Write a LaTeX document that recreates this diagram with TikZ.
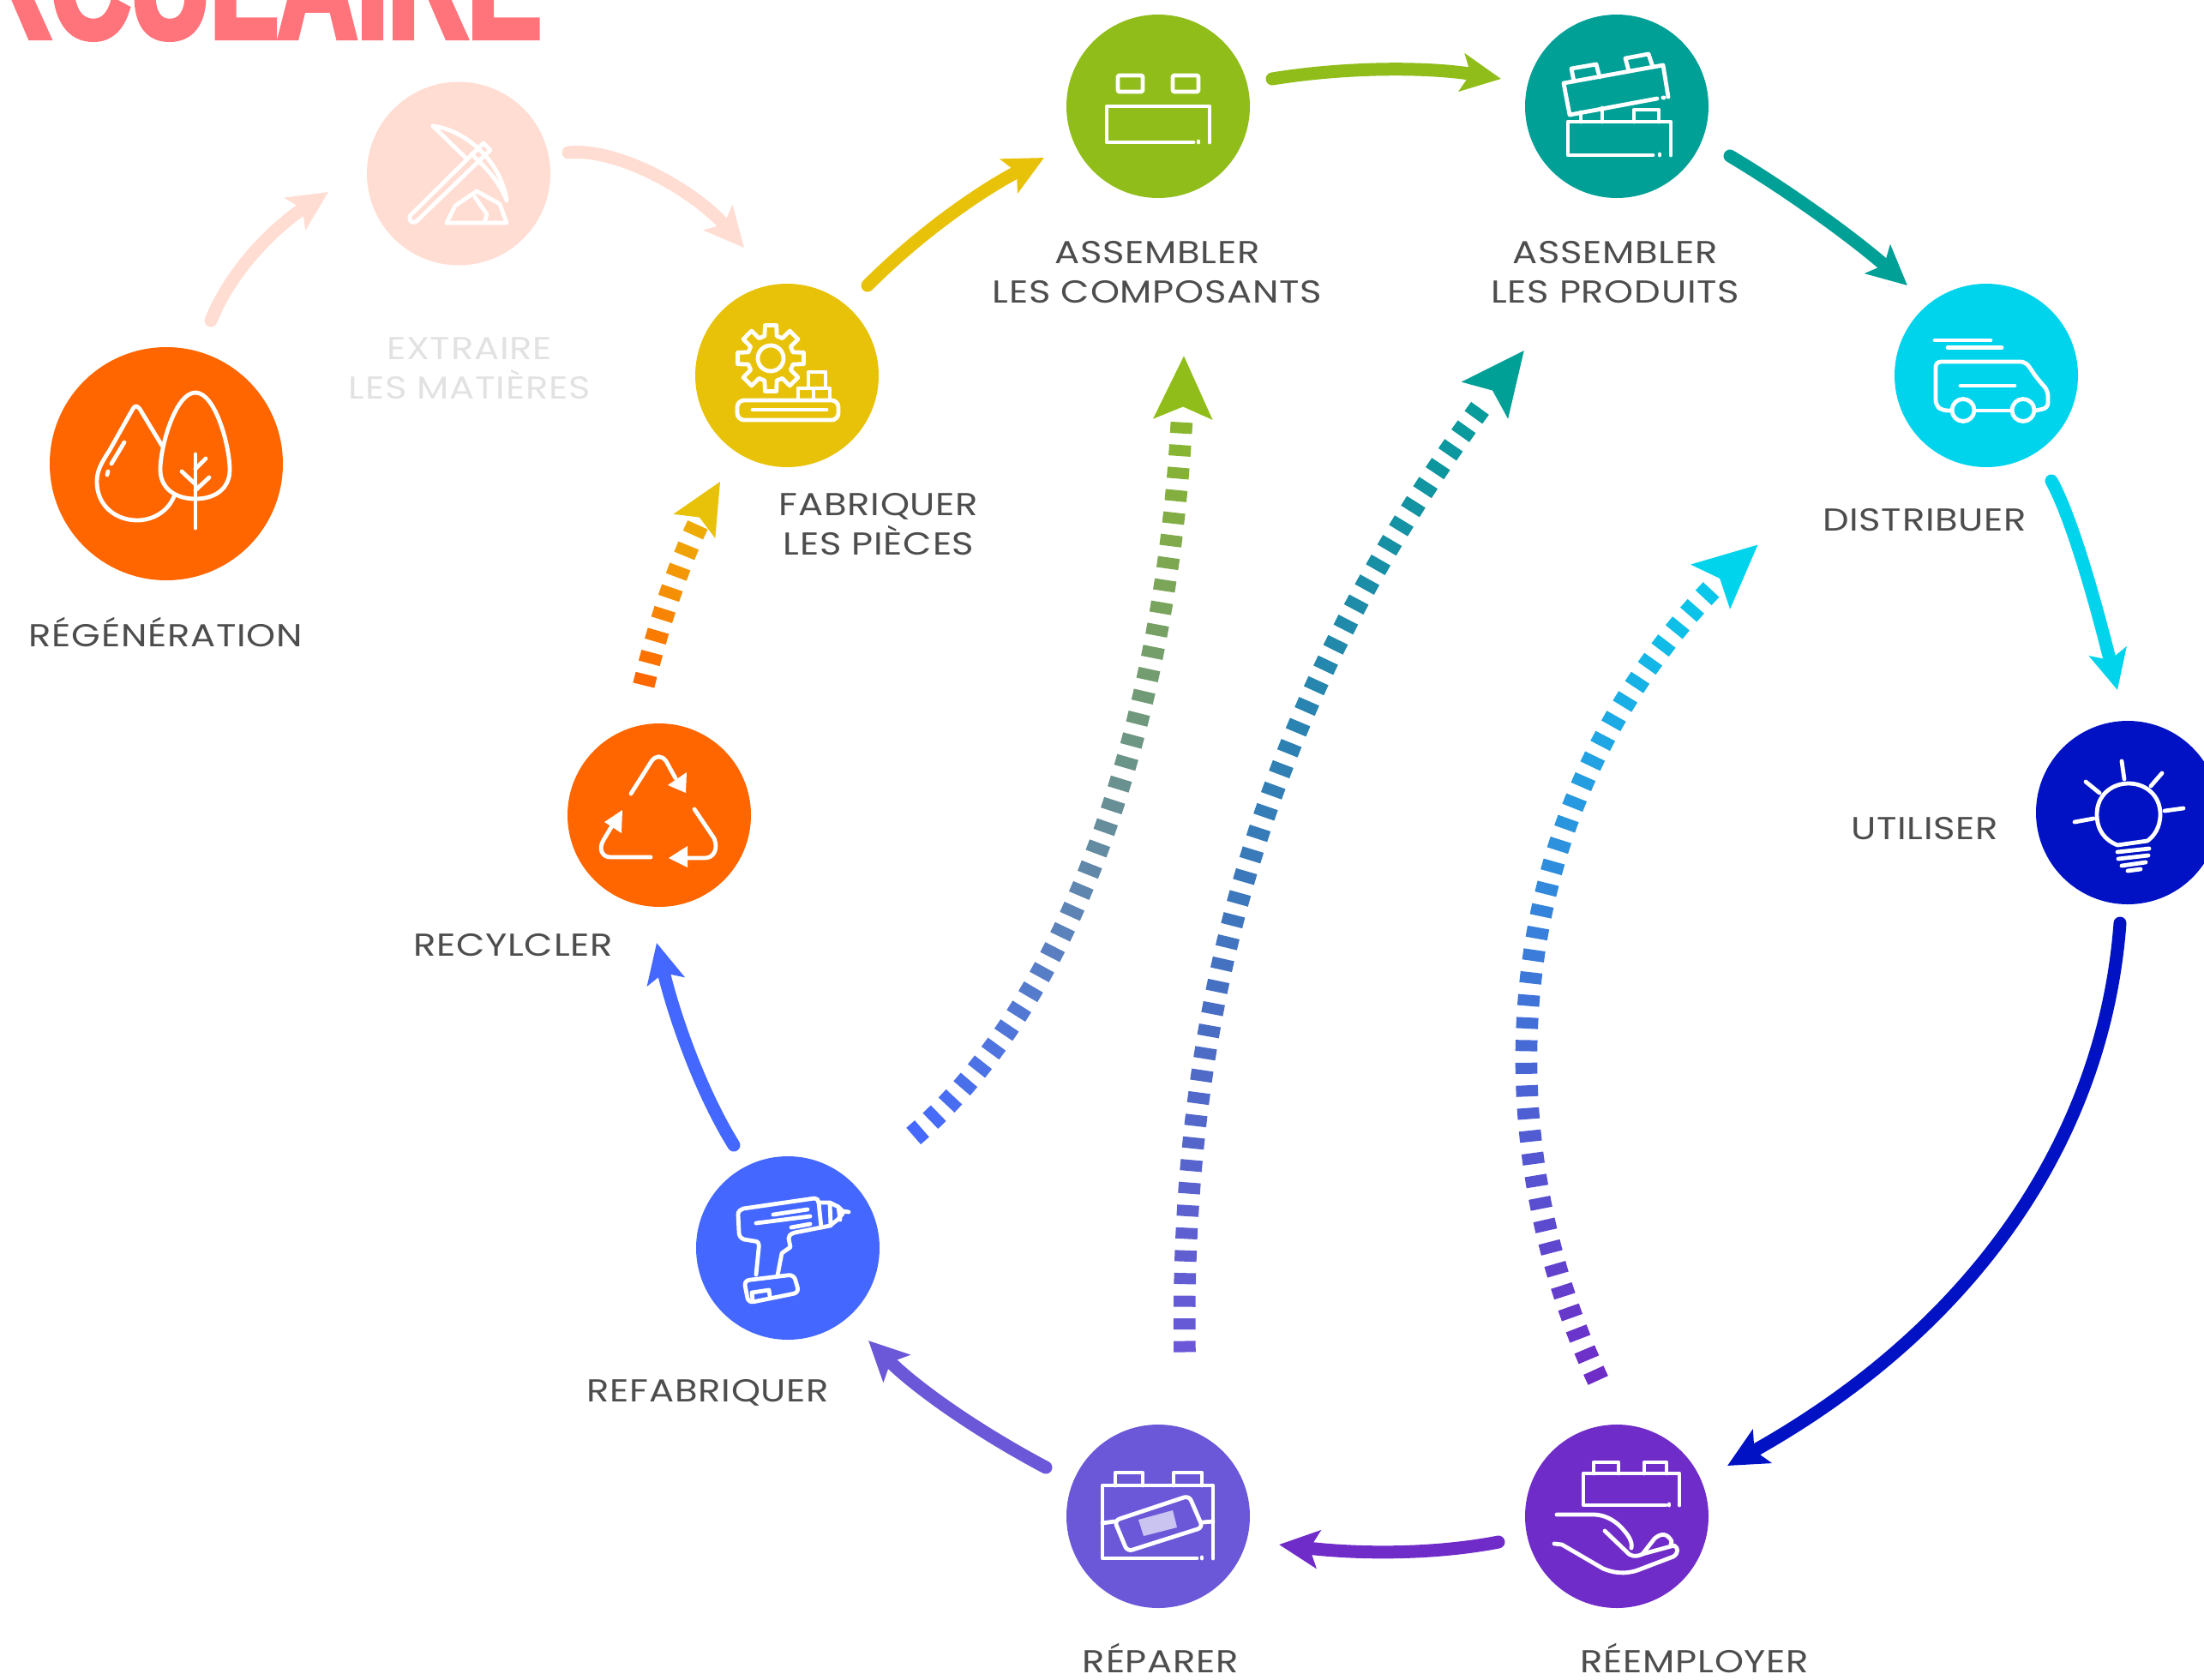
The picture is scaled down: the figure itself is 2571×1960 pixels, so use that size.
\documentclass[tikz,border=0pt]{standalone}
\usepackage{fontspec}
\usetikzlibrary{arrows.meta,decorations.markings,calc}
\setmainfont{Poppins}[FakeStretch=1.17,LetterSpace=2]
\newfontfamily\titlefont[FakeStretch=0.70,FakeBold=3.5]{Liberation Sans}
\definecolor{cRegen}{HTML}{FF6600}
\definecolor{cExtr}{HTML}{FFDDD3}
\definecolor{cFab}{HTML}{E8C208}
\definecolor{cComp}{HTML}{90BD19}
\definecolor{cProd}{HTML}{00A096}
\definecolor{cDist}{HTML}{00D4ED}
\definecolor{cUtil}{HTML}{0012C4}
\definecolor{cReem}{HTML}{702CC8}
\definecolor{cRepa}{HTML}{6A58D8}
\definecolor{cRefa}{HTML}{4468FF}
\definecolor{cTitle}{HTML}{FF747B}
\definecolor{cText}{HTML}{4D4D4D}
\definecolor{cFaint}{HTML}{E2E2E2}
\tikzset{
  disc/.style={circle,minimum size=107pt,inner sep=0pt,outer sep=0pt,draw=none},
  bigdisc/.style={circle,minimum size=136pt,inner sep=0pt,outer sep=0pt,draw=none},
  lab/.style={align=center,text=cText,inner sep=0pt,font=\fontsize{18.5}{23}\selectfont},
  ico/.style={draw=white,line width=2.4pt,line join=round,line cap=round,fill=none},
  flow/.style={line width=7.5pt,line cap=round,-{Stealth[length=23pt,width=22pt,inset=5pt]}},
}
\newcommand{\dashflow}[5]{%
  \path[postaction={decorate},decoration={markings,
    mark=between positions 3pt and -#5 step 13.2pt with {%
      \pgfmathsetmacro\mixp{min(100,100*(\pgfkeysvalueof{/pgf/decoration/mark info/distance from start}/\pgfdecoratedpathlength))}%
      \fill[#2!\mixp!#1] (-3.25pt,-6.4pt) rectangle (3.25pt,6.4pt);},
    mark=at position -1.5pt with {%
      \fill[#2] (1.5pt,0pt) -- (1.5pt-#4,0.47*#4) -- (1.5pt-0.8*#4,0pt) -- (1.5pt-#4,-0.47*#4) -- cycle;}}] #3;}
\begin{document}
\begin{tikzpicture}[x=0.5pt,y=-0.5pt]
\useasboundingbox (0,0) rectangle (2571,1960);
\clip (0,0) rectangle (2571,1960);
% title
\node[anchor=base east,inner sep=0pt,text=cTitle] (title) at (632,44)
  {\titlefont\bfseries\fontsize{92}{92}\selectfont CIRCULAIRE};
% discs
\node[bigdisc,fill=cRegen] (regen) at (194,541) {};
\node[disc,fill=cExtr] (extr) at (535,202.5) {};
\node[disc,fill=cFab] (fab) at (918,438) {};
\node[disc,fill=cComp] (comp) at (1351,124) {};
\node[disc,fill=cProd] (prod) at (1886,124) {};
\node[disc,fill=cDist] (dist) at (2317,438) {};
\node[disc,fill=cUtil] (util) at (2482,948) {};
\node[disc,fill=cReem] (reem) at (1886,1769) {};
\node[disc,fill=cRepa] (repa) at (1351,1769) {};
\node[disc,fill=cRefa] (refa) at (919,1456) {};
\node[disc,fill=cRegen] (recy) at (769,951) {};
% labels
\node[lab] (lregen) at (193.5,737) {RÉGÉNÉRATION};
\node[lab,text=cFaint] (lextr) at (547.6,430) {EXTRAIRE\\LES MATIÈRES};
\node[lab] (lfab) at (1025,612) {FABRIQUER\\LES PIÈCES};
\node[lab] (lcomp) at (1350,318) {ASSEMBLER\\LES COMPOSANTS};
\node[lab] (lprod) at (1884,318) {ASSEMBLER\\LES PRODUITS};
\node[lab] (ldist) at (2245,607) {DISTRIBUER};
\node[lab] (lutil) at (2245,967) {UTILISER};
\node[lab] (lrecy) at (598.5,1103) {RECYLCLER};
\node[lab] (lrefa) at (826,1625) {REFABRIQUER};
\node[lab] (lrepa) at (1354,1934) {RÉPARER};
\node[lab] (lreem) at (1977,1934) {RÉEMPLOYER};
% solid connector ends
\coordinate (s1) at ($(regen)+(52,-167)$);   \coordinate (e1) at ($(extr)+(-152,21.5)$);
\coordinate (s2) at ($(extr)+(128,-24.5)$);  \coordinate (e2) at ($(fab)+(-50,-149)$);
\coordinate (s3) at ($(fab)+(94,-105)$);     \coordinate (e3) at ($(comp)+(-133,60)$);
\coordinate (s4) at ($(comp)+(133,-32)$);    \coordinate (e4) at ($(prod)+(-135,-32)$);
\coordinate (s5) at ($(prod)+(132,58)$);     \coordinate (e5) at ($(dist)+(-92,-105)$);
\coordinate (s6) at ($(dist)+(76,123)$);     \coordinate (e6) at ($(util)+(-12,-143)$);
\coordinate (s7) at ($(util)+(-9,129)$);     \coordinate (e7) at ($(reem)+(129,-59)$);
\coordinate (s8) at ($(reem)+(-138,30)$);    \coordinate (e8) at ($(repa)+(141,33)$);
\coordinate (s9) at ($(repa)+(-131,-57)$);   \coordinate (e9) at ($(refa)+(94,108)$);
\coordinate (s10) at ($(refa)+(-63,-120)$);  \coordinate (e10) at ($(recy)+(-3,149)$);
\draw[flow,cExtr] (s1) .. controls (272,310) and (325,262) .. (e1);
\draw[flow,cExtr] (s2) .. controls (720,172) and (810,222) .. (e2);
\draw[flow,cFab] (s3) .. controls (1075,270) and (1145,222) .. (e3);
\draw[flow,cComp] (s4) .. controls (1570,78) and (1665,78) .. (e4);
\draw[flow,cProd] (s5) .. controls (2090,225) and (2165,280) .. (e5);
\draw[flow,cDist] (s6) .. controls (2420,610) and (2450,725) .. (e6);
\draw[flow,cUtil] (s7) .. controls (2455,1320) and (2310,1545) .. (e7);
\draw[flow,cReem] (s8) .. controls (1665,1815) and (1575,1812) .. (e8);
\draw[flow,cRepa] (s9) .. controls (1150,1675) and (1075,1625) .. (e9);
\draw[flow,cRefa] (s10) .. controls (815,1270) and (785,1180) .. (e10);
% dashed connectors
\coordinate (s11) at ($(recy)+(-18,-152)$);  \coordinate (e11) at ($(fab)+(-78,124)$);
\coordinate (s12) at ($(refa)+(147,-131)$);  \coordinate (e12) at ($(comp)+(30,292)$);
\coordinate (s13) at ($(repa)+(31,-192)$);   \coordinate (e13) at ($(prod)+(-109,286)$);
\coordinate (s14) at ($(reem)+(-22,-159)$);  \coordinate (e14) at ($(dist)+(-267,198)$);
\dashflow{cRegen}{cFab}{(s11) .. controls (770,720) and (800,630) .. (e11)}{30pt}{30pt}
\dashflow{cRefa}{cComp}{(s12) .. controls (1260,1160) and (1375,800) .. (e12)}{37pt}{36pt}
\dashflow{cRepa}{cProd}{(s13) .. controls (1375,1130) and (1500,760) .. (e13)}{37pt}{36pt}
\dashflow{cReem}{cDist}{(s14) .. controls (1720,1300) and (1750,900) .. (e14)}{37pt}{36pt}
% regeneration icon
\draw[ico] (189,520) -- (163,477) .. controls (160,473) and (157,473) .. (155,477) -- (128,525) .. controls (117,542) and (113,550) .. (113,562) .. controls (113,590) and (135,607) .. (160,607) .. controls (180,607) and (197,595) .. (203,579);
\draw[ico] (228,458) .. controls (205,458) and (187,520) .. (187,548) .. controls (187,570) and (205,582) .. (228,582) .. controls (251,582) and (268,570) .. (268,548) .. controls (268,520) and (251,458) .. (228,458);
\draw[ico] (228,530) -- (228,616);
\draw[ico] (212,550) -- (228,565) (240,535) -- (228,547) (244,557) -- (228,572);
\draw[ico] (145,516) -- (130,541) (126,550) -- (125,554);
% extraction icon
\draw[ico] (505,147) .. controls (545,152) and (585,190) .. (591,234) .. controls (580,205) and (555,185) .. (550,180) (505,147) -- (543,184);
\draw[ico] (564,167) -- (478,252) .. controls (476,258) and (482,262) .. (486,258) -- (572,175) -- cycle;
\draw[ico] (521,260) -- (591,260) -- (583,238) -- (556,223) -- (531,240) -- cycle;
\draw[ico] (554,230) -- (568,250) -- (565,260);
% fabrication icon
\draw[ico,shift={(899,418)}] (-15:27) \foreach \a in {0,45,...,315} { -- ({\a-15}:27) -- ({\a-10}:39) -- ({\a+10}:39) -- ({\a+15}:27)} -- cycle;
\draw[ico] (899,418) circle (15);
\draw[ico,rounded corners=4pt] (860,467) rectangle (978,490);
\draw[ico] (878,478) -- (964,478);
\draw[ico] (931,453) rectangle (949,467) (949,453) rectangle (968,467) (943,434) rectangle (963,453);
% component icon
\draw[ico,rounded corners=1pt] (1304,88) rectangle (1333,107) (1368,88) rectangle (1398,107);
\draw[ico] (1392,166) -- (1291,166) -- (1291,124) -- (1411,124) -- (1411,166) (1398,166) -- (1398,165);
% product icon
\draw[ico] (1928,181) -- (1829,181) -- (1829,142) -- (1949,142) -- (1949,181) (1936,181) -- (1936,180);
\draw[ico] (1906,142) -- (1906,128) -- (1935,128) -- (1935,142) (1844,131) -- (1844,142) (1869,126) -- (1869,142);
\draw[ico] (1933,115) -- (1831,134) -- (1824,97) -- (1940,76) -- (1946,113) (1941,114) -- (1940,114);
\draw[ico] (1836,95) -- (1833,80) -- (1862,75) -- (1866,90) (1900,83) -- (1896,68) -- (1923,63) -- (1928,78);
% distribution icon
\draw[ico] (2257,397) -- (2322,397) (2272,405.5) -- (2335,405.5) (2287,450) -- (2350,450);
\draw[ico,rounded corners=3pt] (2276,479) -- (2266,479) -- (2258,473) -- (2258,422) -- (2363,422) -- (2376,441) -- (2389,456) -- (2389,476) -- (2374,479);
\draw[ico] (2304,479) -- (2346,479);
\draw[ico] (2290,478.5) circle (13) (2360,478.5) circle (13);
% use icon
\draw[ico] (2470,986) .. controls (2455,980) and (2446,968) .. (2446,950) .. controls (2446,928) and (2463,914) .. (2483,914) .. controls (2503,914) and (2520,928) .. (2520,950) .. controls (2520,966) and (2512,976) .. (2505,981) -- (2470,986);
\draw[ico] (2475,888) -- (2478,909) (2522,902) -- (2509,917) (2433,912) -- (2449,925) (2420,959) -- (2442,955) (2525,946) -- (2547,943);
\draw[ico] (2470,994) -- (2507,990) (2471,1002) -- (2506,998) (2475,1010) -- (2503,1006) (2482,1016) -- (2497,1014);
% reuse icon
\draw[ico] (1943,1756) -- (1847,1756) -- (1847,1719) -- (1959,1719) -- (1959,1756) (1947,1756) -- (1947,1755);
\draw[ico] (1859,1719) -- (1859,1706) -- (1888,1706) -- (1888,1719) (1918,1719) -- (1918,1706) -- (1944,1706) -- (1944,1719);
\draw[ico] (1816,1767) -- (1860,1767) .. controls (1880,1768) and (1892,1782) .. (1898,1790) .. controls (1903,1797) and (1904,1802) .. (1903,1806);
\draw[ico] (1872,1786) -- (1897,1810) .. controls (1902,1816) and (1908,1817) .. (1916,1813) -- (1953,1803) .. controls (1958,1806) and (1958,1812) .. (1952,1816) -- (1910,1832) .. controls (1895,1837) and (1882,1835) .. (1870,1830) -- (1822,1802) -- (1813,1801);
\draw[ico] (1916,1813) -- (1930,1795) .. controls (1938,1788) and (1945,1789) .. (1950,1798) -- (1949,1802);
% repair icon
\draw[ico] (1396,1818) -- (1286,1818) -- (1286,1733) -- (1415,1733) -- (1415,1818) (1402,1818) -- (1402,1817);
\draw[ico] (1301,1733) -- (1301,1718) -- (1333,1718) -- (1333,1733) (1369,1733) -- (1369,1718) -- (1402,1718) -- (1402,1733);
\draw[ico] (1286,1777) -- (1300,1775) (1403,1776) -- (1415,1775);
\draw[ico,rounded corners=3pt] (1300,1774) -- (1387,1745) -- (1403,1782) -- (1315,1810) -- cycle;
\fill[white,opacity=0.65] (1328,1773) -- (1368,1762) -- (1373,1782) -- (1334,1792) -- cycle;
% remanufacture icon
\draw[ico] (882,1487) -- (885,1457) .. controls (886,1450) and (884,1448) .. (880,1448) -- (868,1446) .. controls (863,1444) and (862,1441) .. (862,1437) -- (861,1417) .. controls (861,1413) and (864,1411) .. (867,1410) -- (950,1398) .. controls (953,1398) and (955,1400) .. (955,1403) -- (958,1432) -- (927,1438) .. controls (921,1440) and (920,1442) .. (920,1445) -- (922,1455) -- (912,1462) -- (907,1488);
\draw[ico] (955,1403) -- (968,1403) -- (978,1408) -- (983,1413) -- (990,1414) (983,1416) -- (977,1423) -- (968,1430) -- (958,1432) (968,1403) -- (969,1430) (978,1408) -- (980,1423);
\draw[ico] (902,1417) -- (942,1411) (882,1427) -- (945,1419) (923,1432) -- (945,1428);
\draw[ico,rounded corners=3pt] (868,1494) -- (926,1487) -- (932,1508) -- (873,1520) -- cycle;
\draw[ico] (878,1517) -- (877,1508) -- (897,1505) -- (898,1512);
% recycling icon
\draw[ico] (736,926) -- (760,888) .. controls (765,881) and (772,881) .. (777,888) -- (788,908);
\fill[white] (800,925) -- (801,901) -- (779,916) -- cycle;
\draw[ico] (810,944) -- (833,978) .. controls (838,990) and (833,1001) .. (822,1001) -- (795,1001);
\fill[white] (780,1001) -- (802,987) -- (802,1012) -- cycle;
\draw[ico] (759,1000) -- (712,1000) .. controls (702,1000) and (698,990) .. (704,980) -- (716,960);
\fill[white] (726,945) -- (705,959) -- (725,972) -- cycle;
\end{tikzpicture}
\end{document}
